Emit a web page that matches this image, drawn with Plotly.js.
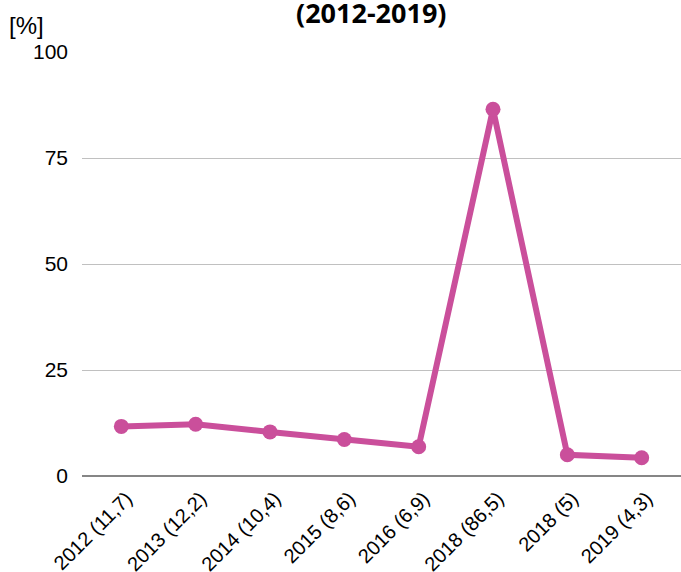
<!DOCTYPE html>
<html><head><meta charset="utf-8">
<script src="https://cdn.plot.ly/plotly-3.0.1.min.js"></script>
<style>html,body{margin:0;padding:0;background:#fff;}#chart{width:681px;height:572px;}</style>
</head><body><div id="chart"></div>
<script>
const categories = ["2012 (11,7)", "2013 (12,2)", "2014 (10,4)", "2015 (8,6)", "2016 (6,9)", "2018 (86,5)", "2018 (5)", "2019 (4,3)"];
const values = [11.7, 12.2, 10.4, 8.6, 6.9, 86.5, 5, 4.3];
const yTicks = [0, 25, 50, 75, 100];
const titleText = "(2012-2019)";
const yUnit = "[%]";

const trace = {
  x: categories, y: values, type: "scatter", mode: "lines+markers",
  line: {color: "#ca4f9b", width: 6},
  marker: {color: "#ca4f9b", size: 15},
  hoverinfo: "skip"
};
const layout = {
  width: 681, height: 572,
  margin: {l: 82, r: 0, t: 52, b: 96},
  paper_bgcolor: "#fff", plot_bgcolor: "#fff",
  showlegend: false,
  xaxis: {type: "category", tickangle: -45, showgrid: false, showline: false, zeroline: false,
          ticks: "", ticklabelstandoff: 6, ticklabelshift: 5,
          tickfont: {family: "Liberation Sans", size: 20, color: "#000"}, fixedrange: true},
  yaxis: {range: [0, 100], tickvals: yTicks, ticktext: yTicks.map(String), showgrid: true,
          gridcolor: "#c0c0c0", gridwidth: 1, zeroline: true, zerolinecolor: "#868686", zerolinewidth: 2,
          showline: false, ticks: "", ticklen: 0, ticklabelstandoff: 13,
          tickfont: {family: "Liberation Sans", size: 21, color: "#000"}, fixedrange: true},
  annotations: [
    {text: yUnit, xref: "paper", yref: "paper", x: -0.125, y: 1.0 + (52 - 25) / 424, xanchor: "left", yanchor: "middle",
     showarrow: false, font: {family: "Liberation Sans", size: 24, color: "#000"}},
    {text: "<b>" + titleText + "</b>", xref: "paper", yref: "paper", x: (371 - 82) / 599, y: 1.0 + (52 - 12) / 424,
     xanchor: "center", yanchor: "middle", showarrow: false,
     font: {family: "Open Sans", size: 27, color: "#000"}}
  ]
};
Plotly.newPlot("chart", [trace], layout, {displayModeBar: false, staticPlot: true});
</script></body></html>
